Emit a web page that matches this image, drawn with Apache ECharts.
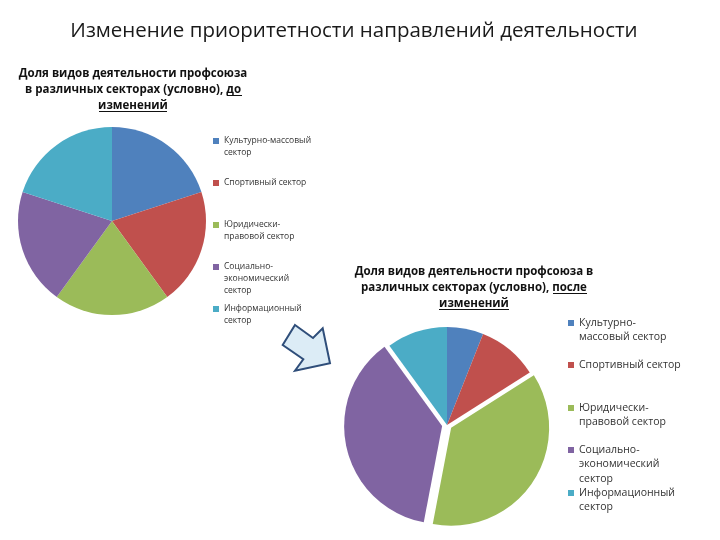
<!DOCTYPE html>
<html><head><meta charset="utf-8">
<script src="https://cdn.jsdelivr.net/npm/echarts@6/dist/echarts.min.js"></script>
<style>html,body{margin:0;padding:0;background:#fff}#c{width:720px;height:540px}</style>
</head><body><div id="c"></div>
<script>
const categories = ['Культурно-массовый сектор','Спортивный сектор','Юридически-правовой сектор','Социально-экономический сектор','Информационный сектор'];
const beforeValues = [20, 20, 20, 20, 20];
const afterValues = [6, 10, 37, 37, 10];
const afterExploded = [false, false, true, true, false];
const leftLegendLabels = ['Культурно-массовый\nсектор','Спортивный сектор','Юридически-\nправовой сектор','Социально-\nэкономический\nсектор','Информационный\nсектор'];
const rightLegendLabels = ['Культурно-\nмассовый сектор','Спортивный сектор','Юридически-\nправовой сектор','Социально-\nэкономический\nсектор','Информационный\nсектор'];
const colors = ['#4f81bd','#c0504d','#9bbb59','#8064a2','#4bacc6'];

const FONT = 'Open Sans';
const chart = echarts.init(document.getElementById('c'), null, {renderer:'canvas'});

function makeLegends(labels, x, centers, L, fontSize, icon) {
  return labels.map((lab, i) => {
    const n = lab.split('\n').length;
    const txt = '\n'.repeat(n - 1) + lab;
    return {
      data: [categories[i]], orient: 'vertical', left: x,
      top: centers[i] - (2*n-1)*L/2, padding: 0,
      itemWidth: icon, itemHeight: icon, icon: 'rect',
      formatter: () => txt,
      textStyle: {fontFamily: FONT, fontSize: fontSize, lineHeight: L, color: '#333'},
      selectedMode: false
    };
  });
}

const option = {
  animation: false,
  color: colors,
  title: [
    {text: 'Изменение приоритетности направлений деятельности', left: 354, textAlign: 'center', top: 18, padding: 0,
     textStyle: {fontFamily: FONT, fontSize: 20.5, lineHeight: 26, fontWeight: 'normal', color: '#1a1a1a'}},
    {text: 'Доля видов деятельности профсоюза\nв различных секторах (условно), до\nизменений', left: 133, textAlign: 'center', top: 66, padding: 0,
     textStyle: {fontFamily: FONT, fontSize: 11.5, fontWeight: 'bold', lineHeight: 16, color: '#111'}},
    {text: 'Доля видов деятельности профсоюза в\nразличных секторах (условно), после\nизменений', left: 474, textAlign: 'center', top: 264, padding: 0,
     textStyle: {fontFamily: FONT, fontSize: 11.5, fontWeight: 'bold', lineHeight: 16, color: '#111'}}
  ],
  legend: makeLegends(leftLegendLabels, 213, [141,183,225,267,309], 12, 8.5, 6)
    .concat(makeLegends(rightLegendLabels, 568, [323,365,408,450,493], 14.3, 10.5, 6)),
  series: [
    {type: 'pie', center: [112, 221], radius: 94, startAngle: 90, clockwise: true,
     label: {show: false}, labelLine: {show: false},
     itemStyle: {borderWidth: 0},
     data: categories.map((c, i) => ({name: c, value: beforeValues[i]}))},
    {type: 'pie', center: [447, 425], radius: 98, startAngle: 90, clockwise: true,
     selectedMode: 'multiple', selectedOffset: 5,
     label: {show: false}, labelLine: {show: false},
     itemStyle: {borderWidth: 0},
     data: categories.map((c, i) => ({name: c, value: afterValues[i], selected: afterExploded[i]}))}
  ],
  graphic: [
    {type: 'polygon', shape: {points: [[295,325],[313,338],[322.7,328.3],[330,363.3],[295,370.7],[303.3,359.3],[282.7,345]]},
     style: {fill: '#dcecf6', stroke: '#2f4e7a', lineWidth: 2}},
    {type: 'line', shape: {x1: 227, y1: 95.5, x2: 242, y2: 95.5}, style: {stroke: '#111', lineWidth: 1}},
    {type: 'line', shape: {x1: 99, y1: 111.5, x2: 167, y2: 111.5}, style: {stroke: '#111', lineWidth: 1}},
    {type: 'line', shape: {x1: 553, y1: 293.5, x2: 587, y2: 293.5}, style: {stroke: '#111', lineWidth: 1}},
    {type: 'line', shape: {x1: 439, y1: 309.5, x2: 509, y2: 309.5}, style: {stroke: '#111', lineWidth: 1}}
  ]
};
chart.setOption(option);
</script></body></html>
